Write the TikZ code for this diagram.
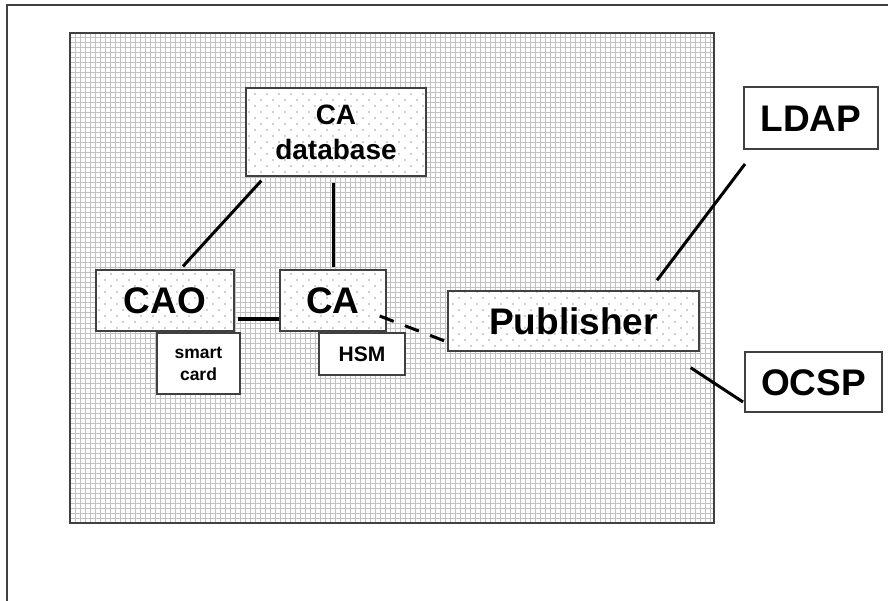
\documentclass[tikz,border=0pt]{standalone}
\usepackage{fontspec}
\setmainfont{Liberation Sans}
\usetikzlibrary{calc,patterns}

% staggered light dots used inside the system boxes
\pgfdeclarepatternformonly{sparsedots}{\pgfqpoint{-1pt}{-1pt}}{\pgfqpoint{13pt}{13pt}}{\pgfqpoint{12pt}{12pt}}{%
  \pgfpathcircle{\pgfqpoint{3pt}{3pt}}{0.8pt}%
  \pgfpathcircle{\pgfqpoint{9pt}{9pt}}{0.8pt}%
  \pgfusepath{fill}}

\definecolor{framec}{HTML}{404040}
\definecolor{gridc}{HTML}{C2C2C2}
\definecolor{dotc}{HTML}{A0A0A0}

\tikzset{
  txt/.style 2 args={font=\bfseries\fontsize{#1}{#2}\selectfont},
  dotbox/.style={draw=framec, line width=1.4pt, preaction={fill=white},
    pattern=sparsedots, pattern color=dotc, inner sep=0pt, align=center},
  plainbox/.style={draw=framec, line width=2pt, fill=white, inner sep=0pt, align=center},
  link/.style={line width=3pt, black},
  dashlink/.style={line width=3pt, black, dash pattern=on 15pt off 12pt},
}

\begin{document}
\begin{tikzpicture}[x=1pt, y=-1pt]
\useasboundingbox (0,0) rectangle (888,601);

% outer page frame
\draw[framec, line width=2.2pt] (7,601) -- (7,5) -- (888,5);

% hatched region holding the CA system
\fill[white] (70,33) rectangle (714,523);
\foreach \gx in {75,80,...,710} \draw[gridc, line width=1pt] (\gx,33) -- (\gx,523);
\foreach \gy in {38,43,...,520} \draw[gridc, line width=1pt] (70,\gy) -- (714,\gy);
\draw[framec, line width=2pt] (70,33) rectangle (714,523);

% components
\node[dotbox, minimum width=180pt, minimum height=88pt, txt={28}{35}] (cadb) at (336,132)
  {CA\\database};
\node[dotbox, minimum width=138pt, minimum height=61pt, txt={37}{40},
  text height=26.5pt, text depth=0pt] (cao) at (165,300.5) {CAO};
\node[dotbox, minimum width=106pt, minimum height=61pt, txt={37}{40},
  text height=26.5pt, text depth=0pt] (ca) at (333,300.5) {CA};
\node[plainbox, minimum width=83pt, minimum height=61pt, txt={17.5}{22}] (card) at (198.5,363.5)
  {smart\\card};
\node[plainbox, minimum width=86pt, minimum height=42pt, txt={21}{24},
  text height=15pt, text depth=0pt] (hsm) at (362,354) {HSM};
\node[dotbox, minimum width=251pt, minimum height=60pt, txt={37}{40},
  text height=26.5pt, text depth=0pt] (pub) at (573.5,321) {Publisher};
\node[plainbox, minimum width=134pt, minimum height=62pt, txt={37}{40},
  text height=26.5pt, text depth=0pt] (ldap) at (811,118) {LDAP};
\node[plainbox, minimum width=137pt, minimum height=60pt, txt={37}{40},
  text height=26.5pt, text depth=0pt] (ocsp) at (813.5,382) {OCSP};

% connections
\draw[link] ($(cadb.south west)+(16,4)$) -- ($(cao.north)+(18,-3)$);
\draw[link] ($(ca.north |- cadb.south)+(0,6)$) -- ($(ca.north)+(0,-2)$);
\draw[link] ($(cao.east)+(3,18.5)$) -- ($(ca.west)+(0,18.5)$);
\draw[dashlink] ($(ca.east)+(-7,15.5)$) -- ($(pub.west)+(0,21)$);
\draw[link] ($(pub.north)+(83.5,-10)$) -- ($(ldap.south west)+(2,14)$);
\draw[link] ($(pub.south east)+(-9,16)$) -- ($(ocsp.west)+(-1,20)$);
\end{tikzpicture}
\end{document}
